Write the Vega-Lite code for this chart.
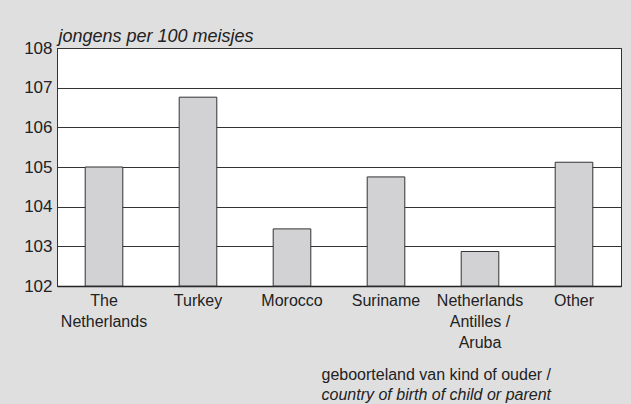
{
  "$schema": "https://vega.github.io/schema/vega-lite/v6.json",
  "autosize": {"type": "none"},
  "width": 564,
  "height": 238,
  "padding": {"left": 57, "top": 48, "right": 10, "bottom": 118},
  "background": "#dfdfe0",
  "data": {
    "values": [
      {"country": "The Netherlands", "value": 105.0},
      {"country": "Turkey", "value": 106.76},
      {"country": "Morocco", "value": 103.44},
      {"country": "Suriname", "value": 104.75},
      {"country": "Netherlands Antilles / Aruba", "value": 102.87},
      {"country": "Other", "value": 105.12}
    ]
  },
  "title": {
    "text": "geboorteland van kind of ouder /",
    "subtitle": "country of birth of child or parent",
    "orient": "bottom",
    "anchor": "end",
    "frame": "group",
    "dx": -70,
    "offset": 17,
    "font": "Liberation Sans",
    "fontSize": 16,
    "fontWeight": "normal",
    "color": "#222",
    "subtitleFont": "Liberation Sans",
    "subtitleFontSize": 16,
    "subtitleFontStyle": "italic",
    "subtitleColor": "#222",
    "subtitlePadding": 4
  },
  "mark": {"type": "bar", "fill": "#d2d2d4", "stroke": "#333", "strokeWidth": 1},
  "encoding": {
    "x": {
      "field": "country",
      "type": "nominal",
      "sort": null,
      "scale": {"paddingInner": 0.6, "paddingOuter": 0.3},
      "axis": {
        "title": null,
        "labelAngle": 0,
        "ticks": false,
        "domain": true,
        "domainColor": "#222",
        "domainWidth": 1.5,
        "labelFont": "Liberation Sans",
        "labelFontSize": 16,
        "labelColor": "#222",
        "labelPadding": 6,
        "labelLineHeight": 21,
        "labelBaseline": "top",
        "labelExpr": "datum.label == 'The Netherlands' ? ['The', 'Netherlands'] : datum.label == 'Netherlands Antilles / Aruba' ? ['Netherlands', 'Antilles /', 'Aruba'] : datum.label"
      }
    },
    "y": {
      "field": "value",
      "type": "quantitative",
      "scale": {"domain": [102, 108], "zero": false, "nice": false},
      "axis": {
        "title": "jongens per 100 meisjes",
        "titleAngle": 0,
        "titleAlign": "left",
        "titleBaseline": "alphabetic",
        "titleX": 1,
        "titleY": -7,
        "titleFont": "Liberation Sans",
        "titleFontSize": 18,
        "titleFontStyle": "italic",
        "titleFontWeight": "normal",
        "titleColor": "#222",
        "values": [102, 103, 104, 105, 106, 107, 108],
        "ticks": false,
        "grid": true,
        "gridColor": "#333",
        "gridOpacity": 1,
        "domainColor": "#333",
        "labelFont": "Liberation Sans",
        "labelFontSize": 17,
        "labelColor": "#222",
        "labelPadding": 5
      }
    },
    "y2": {"datum": 102}
  },
  "config": {
    "view": {"fill": "white", "stroke": "#333", "strokeWidth": 1}
  }
}
